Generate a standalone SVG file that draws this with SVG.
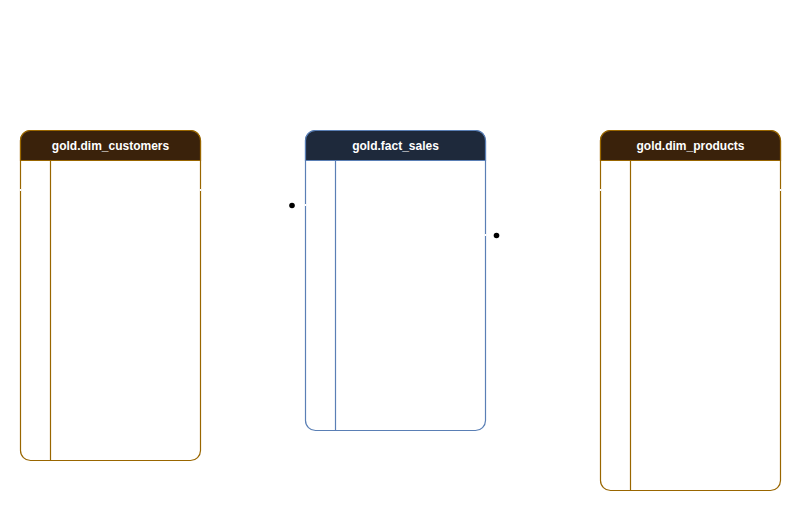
<svg xmlns="http://www.w3.org/2000/svg" width="801" height="511" viewBox="0 0 801 511">
<style>
.tbl-gold{fill:#ffffff;stroke:#996600;stroke-width:1.2}
.hdr-gold{fill:#3a220b;stroke:#996600;stroke-width:1.2}
.tbl-blue{fill:#ffffff;stroke:#5a7fb5;stroke-width:1.2}
.hdr-blue{fill:#1e293b;stroke:#5a7fb5;stroke-width:1.2}
.div-gold{stroke:#996600;stroke-width:1.2}
.div-blue{stroke:#5a7fb5;stroke-width:1.2}
.title{font-family:"Liberation Sans",Arial,sans-serif;font-size:12px;font-weight:bold;fill:#ffffff;text-anchor:middle}
.gap{stroke:#ffffff;stroke-width:1.5}
</style>
<rect width="801" height="511" fill="#ffffff"/>
<g id="dim_customers">
<rect class="tbl-gold" x="20.5" y="130.5" width="180" height="330" rx="10"/>
<path class="hdr-gold" d="M20.5,160.5 V140.5 A10,10 0 0 1 30.5,130.5 H190.5 A10,10 0 0 1 200.5,140.5 V160.5 Z"/>
<line class="div-gold" x1="50.5" y1="160.5" x2="50.5" y2="460.5"/>
<line class="gap" x1="20.5" y1="189" x2="20.5" y2="191"/>
<line class="gap" x1="200.5" y1="189" x2="200.5" y2="191"/>
<text class="title" x="110.5" y="149.5">gold.dim_customers</text>
</g>
<g id="fact_sales">
<rect class="tbl-blue" x="305.5" y="130.5" width="180" height="300" rx="10"/>
<path class="hdr-blue" d="M305.5,160.5 V140.5 A10,10 0 0 1 315.5,130.5 H475.5 A10,10 0 0 1 485.5,140.5 V160.5 Z"/>
<line class="div-blue" x1="335.5" y1="160.5" x2="335.5" y2="430.5"/>
<line class="gap" x1="305.5" y1="204" x2="305.5" y2="206"/>
<line class="gap" x1="485.5" y1="234" x2="485.5" y2="236"/>
<text class="title" x="395.5" y="149.5">gold.fact_sales</text>
</g>
<g id="dim_products">
<rect class="tbl-gold" x="600.5" y="130.5" width="180" height="360" rx="10"/>
<path class="hdr-gold" d="M600.5,160.5 V140.5 A10,10 0 0 1 610.5,130.5 H770.5 A10,10 0 0 1 780.5,140.5 V160.5 Z"/>
<line class="div-gold" x1="630.5" y1="160.5" x2="630.5" y2="490.5"/>
<line class="gap" x1="600.5" y1="189" x2="600.5" y2="191"/>
<line class="gap" x1="780.5" y1="189" x2="780.5" y2="191"/>
<text class="title" x="690.5" y="149.5">gold.dim_products</text>
</g>
<g id="connectors">
<circle cx="292" cy="205.5" r="2.8" fill="#000000"/>
<circle cx="496.5" cy="235.5" r="2.8" fill="#000000"/>
</g>
</svg>
